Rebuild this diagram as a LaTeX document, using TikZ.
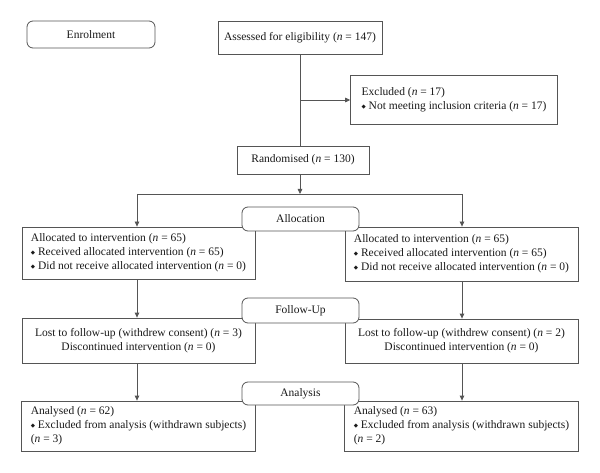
\documentclass[tikz,border=0pt]{standalone}
\usepackage{fontspec}
\setmainfont{Liberation Serif}
\newfontfamily\djv{DejaVu Sans}
\usetikzlibrary{arrows.meta}
\newcommand{\bul}{{\djv\fontsize{5.5}{5.5}\selectfont\raisebox{0.35ex}{◆}}\hspace{0.25em}}
\newcommand{\nn}{\textit{n}}
\definecolor{lc}{HTML}{555555}
\definecolor{tc}{HTML}{1a1a1a}
\begin{document}
\begin{tikzpicture}[x=1pt,y=-1pt,
  every node/.style={font=\fontsize{11.5}{14}\selectfont, text=tc},
  box/.style={draw=lc, line width=0.8pt, rectangle, inner sep=0pt},
  stage/.style={box, fill=white, rounded corners=6pt, minimum width=117pt},
  arr/.style={draw=lc, line width=0.8pt, -{Triangle[length=5pt,width=4.5pt]}},
  ln/.style={draw=lc, line width=0.8pt}]
\useasboundingbox (0,0) rectangle (600,473);
\fill[white] (0,0) rectangle (600,473);

\node[box, rounded corners=6pt, minimum width=128pt, minimum height=27pt] (enrol) at (91,34.5) {Enrolment};
\node[box, minimum width=164pt, minimum height=33pt] (assess) at (300,37.5) {Assessed for eligibility (\nn{} = 147)};
\node[box, minimum width=202pt, minimum height=49pt, align=left, inner xsep=11pt] (excl) at (454,99.5) {Excluded (\nn{} = 17)\\\bul Not meeting inclusion criteria (\nn{} = 17)};
\node[box, minimum width=132pt, minimum height=28pt] (rand) at (303,160) {Randomised (\nn{} = 130)};

\node[box, minimum width=233pt, minimum height=52pt, align=left, inner xsep=9pt] (la) at (138.5,253) {Allocated to intervention (\nn{} = 65)\\\bul Received allocated intervention (\nn{} = 65)\\\bul Did not receive allocated intervention (\nn{} = 0)};
\node[box, minimum width=233pt, minimum height=54pt, align=left, inner xsep=9pt] (ra) at (461.5,254) {Allocated to intervention (\nn{} = 65)\\\bul Received allocated intervention (\nn{} = 65)\\\bul Did not receive allocated intervention (\nn{} = 0)};

\node[box, minimum width=233pt, minimum height=45pt, align=center] (lf) at (138.5,340.5) {Lost to follow-up (withdrew consent) (\nn{} = 3)\\Discontinued intervention (\nn{} = 0)};
\node[box, minimum width=233pt, minimum height=44pt, align=center] (rf) at (461.5,341) {Lost to follow-up (withdrew consent) (\nn{} = 2)\\Discontinued intervention (\nn{} = 0)};

\node[box, minimum width=233pt, minimum height=50pt, align=left, inner xsep=9pt] (lan) at (138.5,426) {Analysed (\nn{} = 62)\\\bul Excluded from analysis (withdrawn subjects)\\(\nn{} = 3)};
\node[box, minimum width=233pt, minimum height=50pt, align=left, inner xsep=9pt] (ran) at (461.5,426) {Analysed (\nn{} = 63)\\\bul Excluded from analysis (withdrawn subjects)\\(\nn{} = 2)};

% connectors
\coordinate (j1) at (300,100);
\coordinate (j2) at (300,194);
\coordinate (jl) at (137,194);
\coordinate (jr) at (462,194);
\draw[ln] (assess.south) -- (assess.south |- rand.north);
\draw[arr] (j1) -- (excl.west |- j1);
\draw[arr] (rand.south -| j2) -- (j2);
\draw[ln] (jl) -- (jr);
\draw[arr] (jl) -- (jl |- la.north);
\draw[arr] (jr) -- (jr |- ra.north);
\draw[arr] (la.south -| jl) -- (lf.north -| jl);
\draw[arr] (ra.south -| jr) -- (rf.north -| jr);
\draw[arr] (lf.south -| jl) -- (lan.north -| jl);
\draw[arr] (rf.south -| jr) -- (ran.north -| jr);

% stage labels on top
\node[stage, minimum height=24pt] (alloc) at (300.5,219) {Allocation};
\node[stage, minimum height=25pt] (fu) at (300.5,310.5) {Follow-Up};
\node[stage, minimum height=23pt] (an) at (300.5,393.5) {Analysis};
\end{tikzpicture}
\end{document}
